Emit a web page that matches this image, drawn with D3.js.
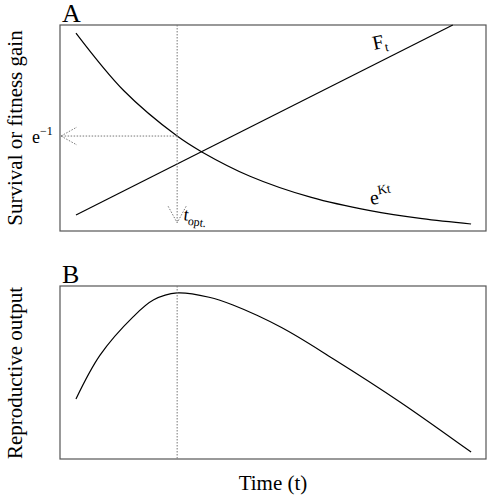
<!DOCTYPE html>
<html><head><meta charset="utf-8">
<script src="https://cdn.jsdelivr.net/npm/d3@7"></script>
<style>body{margin:0;background:#fff}svg text{font-family:"Liberation Serif","Times New Roman","DejaVu Serif",serif !important;fill:#000}</style>
</head><body><svg id="c" width="487" height="500" font-family="Liberation Serif, DejaVu Serif, serif"></svg>
<script>
const decayT = [0.375, 1.5, 2.75, 3.33, 4.46, 5.9, 7.28, 8.5, 9.65];
const decayV = [0.961, 0.681, 0.461, 0.384, 0.266, 0.163, 0.099, 0.060, 0.034];
const gainT = [0.375, 9.22];
const gainV = [0.078, 1.0];
const reproT = [0.375, 0.94, 1.71, 2.2, 2.75, 3.5, 4.06, 5.2, 6.41, 7.98, 9.65];
const reproV = [0.347, 0.60, 0.82, 0.92, 0.96, 0.935, 0.89, 0.76, 0.58, 0.33, 0.04];
const tOpt = 2.75;
const eInv = 0.461;

const svg = d3.select("#c");
const x = d3.scaleLinear().domain([0, 10]).range([60, 486]);
const yA = d3.scaleLinear().domain([0, 1]).range([231, 25]);
const yB = d3.scaleLinear().domain([0, 1]).range([459, 286]);

function box(y){svg.append("rect").attr("x",60).attr("y",y.range()[1]).attr("width",426).attr("height",y.range()[0]-y.range()[1]).attr("fill","none").attr("stroke","#555").attr("stroke-width",1.2);}
box(yA); box(yB);

function line(ts, vs, y){
  svg.append("path").datum(ts.map((t,i)=>[t,vs[i]]))
    .attr("d", d3.line().x(d=>x(d[0])).y(d=>y(d[1])).curve(d3.curveCatmullRom))
    .attr("fill","none").attr("stroke","#000").attr("stroke-width",1.2);
}
line(decayT, decayV, yA);
line(gainT, gainV, yA);
line(reproT, reproV, yB);

const dot = {stroke:"#777","stroke-width":1,"stroke-dasharray":"1.5,1.5",fill:"none"};
function dl(x1,y1,x2,y2){const l=svg.append("line").attr("x1",x1).attr("y1",y1).attr("x2",x2).attr("y2",y2);for(const k in dot)l.attr(k,dot[k]);}
dl(x(tOpt), yA(1), x(tOpt), yA(0.04));
dl(x(tOpt)-9, yA(0.12), x(tOpt), yA(0.04));
dl(x(tOpt)+9, yA(0.12), x(tOpt), yA(0.04));
dl(x(tOpt), yA(eInv), 61, yA(eInv));
dl(61, yA(eInv), 77, yA(eInv)-9);
dl(61, yA(eInv), 77, yA(eInv)+9);
dl(x(tOpt), yB(1), x(tOpt), yB(0));

svg.append("text").attr("x",62).attr("y",22).attr("font-size",26).text("A");
svg.append("text").attr("x",62).attr("y",283).attr("font-size",26).text("B");
svg.append("text").attr("transform","translate(22,128) rotate(-90)").attr("text-anchor","middle").attr("font-size",21).text("Survival or fitness gain");
svg.append("text").attr("transform","translate(22,373) rotate(-90)").attr("text-anchor","middle").attr("font-size",21).text("Reproductive output");
svg.append("text").attr("x",273).attr("y",490).attr("text-anchor","middle").attr("font-size",21).text("Time (t)");
const e1 = svg.append("text").attr("x",32).attr("y",143).attr("font-size",18);
e1.append("tspan").text("e");
e1.append("tspan").attr("dy",-8).attr("font-size",12).text("−1");
const to = svg.append("text").attr("x",183).attr("y",220).attr("font-size",18).attr("transform","rotate(8,183,220)");
to.append("tspan").text("t");
to.append("tspan").attr("dy",4).attr("font-size",12).text("opt.");
const ft = svg.append("text").attr("x",374).attr("y",50).attr("font-size",20).attr("transform","rotate(-12,374,50)");
ft.append("tspan").text("F");
ft.append("tspan").attr("dy",4).attr("font-size",13).text("t");
const ek = svg.append("text").attr("x",371).attr("y",205).attr("font-size",20).attr("transform","rotate(-10,371,205)");
ek.append("tspan").text("e");
ek.append("tspan").attr("dy",-9).attr("font-size",13).text("Kt");
</script></body></html>
